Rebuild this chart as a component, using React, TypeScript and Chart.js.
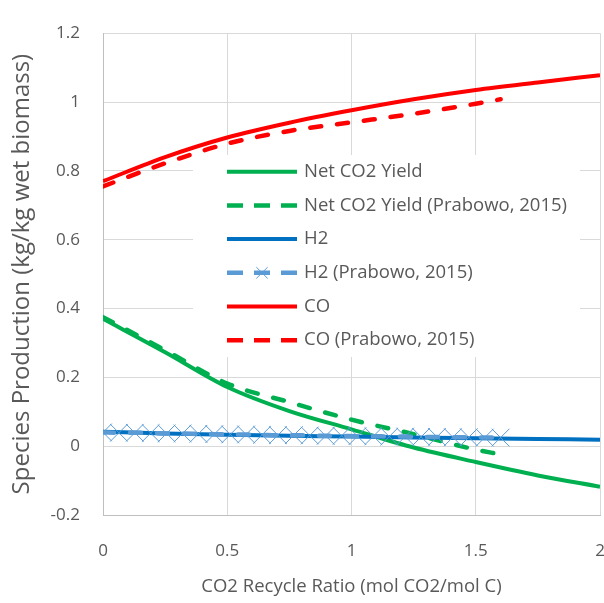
import React, { useEffect, useRef } from 'react';
import { Chart, registerables } from 'chart.js';

Chart.register(...registerables);

// ---- Data ----
const simRatio = [0, 0.25, 0.5, 0.75, 1, 1.25, 1.5, 1.75, 2];
const netCO2Yield = [0.370, 0.273, 0.172, 0.102, 0.049, -0.004, -0.046, -0.085, -0.118];
const h2Yield = [0.042, 0.037, 0.033, 0.030, 0.028, 0.025, 0.023, 0.021, 0.019];
const coYield = [0.770, 0.840, 0.897, 0.940, 0.976, 1.008, 1.035, 1.057, 1.078];

const prabowoRatio = [0, 0.25, 0.5, 0.75, 1, 1.25, 1.5, 1.6];
const netCO2Prabowo = [0.375, 0.279, 0.182, 0.128, 0.077, 0.035, -0.010, -0.024];
const coPrabowo = [0.755, 0.822, 0.879, 0.916, 0.941, 0.966, 0.995, 1.008];

const h2PrabowoRatio = [
  0, 0.064, 0.128, 0.192, 0.256, 0.32, 0.384, 0.448, 0.512, 0.576, 0.64, 0.704, 0.768,
  0.832, 0.896, 0.96, 1.024, 1.088, 1.152, 1.216, 1.28, 1.344, 1.408, 1.472, 1.536, 1.6,
];
const h2Prabowo = [
  0.040, 0.039, 0.039, 0.038, 0.037, 0.037, 0.036, 0.035, 0.034, 0.034, 0.033, 0.032, 0.032,
  0.031, 0.030, 0.030, 0.029, 0.029, 0.028, 0.028, 0.027, 0.027, 0.026, 0.026, 0.025, 0.025,
];

const seriesLabels = [
  'Net CO2 Yield',
  'Net CO2 Yield (Prabowo, 2015)',
  'H2',
  'H2 (Prabowo, 2015)',
  'CO',
  'CO (Prabowo, 2015)',
];

const xTitle = 'CO2 Recycle Ratio (mol CO2/mol C)';
const yTitle = 'Species Production (kg/kg wet biomass)';

const FONT = '"Open Sans", "DejaVu Sans", sans-serif';
const TEXT = '#595959';
const TICK_SIZE = 17;
const LEGEND_SIZE = 18.5;
const XTITLE_SIZE = 18.5;
const YTITLE_SIZE = 24;

const toPoints = (xs: number[], ys: number[]) => xs.map((x, i) => ({ x, y: ys[i] }));
const fmt = (v: number) => {
  const n = Number(Number(v).toFixed(2));
  return (n === 0 ? 0 : n).toString();
};

const insideLegend = {
  id: 'insideLegend',
  afterDraw(chart: any) {
    const ctx: CanvasRenderingContext2D = chart.ctx;
    const boxL = 193, boxT = 155, boxW = 387, boxH = 202;
    const rowTop = 171.7, rowGap = 33.7;
    const lineX0 = 227, lineX1 = 297, textX = 304;
    ctx.save();
    ctx.fillStyle = '#FFFFFF';
    ctx.fillRect(boxL, boxT, boxW, boxH);
    chart.data.datasets.forEach((ds: any, i: number) => {
      const y = rowTop + i * rowGap;
      ctx.beginPath();
      ctx.strokeStyle = ds.borderColor;
      ctx.lineWidth = ds.borderWidth;
      ctx.lineCap = 'butt';
      ctx.setLineDash(ds.borderDash && ds.borderDash.length ? [16, 11] : []);
      ctx.moveTo(lineX0, y);
      ctx.lineTo(lineX1, y);
      ctx.stroke();
      ctx.setLineDash([]);
      if (ds.pointRadius && ds.pointRadius > 0) {
        const cx = (lineX0 + lineX1) / 2;
        const r = 8 * Math.SQRT1_2;
        ctx.beginPath();
        ctx.strokeStyle = ds.pointBorderColor;
        ctx.lineWidth = ds.pointBorderWidth;
        ctx.moveTo(cx - r, y - r);
        ctx.lineTo(cx + r, y + r);
        ctx.moveTo(cx + r, y - r);
        ctx.lineTo(cx - r, y + r);
        ctx.stroke();
      }
      ctx.fillStyle = TEXT;
      ctx.font = `${LEGEND_SIZE}px ${FONT}`;
      ctx.textBaseline = 'middle';
      ctx.textAlign = 'left';
      ctx.fillText(ds.label, textX, y);
    });
    ctx.restore();
  },
};

export default function App() {
  const ref = useRef<HTMLCanvasElement | null>(null);

  useEffect(() => {
    if (!ref.current) return;
    const base = {
      pointRadius: 0,
      pointHoverRadius: 0,
      cubicInterpolationMode: 'monotone' as const,
      fill: false,
    };
    const dashed = [11, 16];
    const chart = new Chart(ref.current, {
      type: 'line',
      data: {
        datasets: [
          {
            ...base,
            label: seriesLabels[0],
            data: toPoints(simRatio, netCO2Yield),
            borderColor: '#00B050',
            borderWidth: 4,
            order: 5,
          },
          {
            ...base,
            label: seriesLabels[1],
            data: toPoints(prabowoRatio, netCO2Prabowo),
            borderColor: '#00B050',
            borderWidth: 4.5,
            borderDash: dashed,
            borderCapStyle: 'round',
            order: 4,
          },
          {
            ...base,
            label: seriesLabels[2],
            data: toPoints(simRatio, h2Yield),
            borderColor: '#0070C0',
            borderWidth: 4,
            order: 3,
          },
          {
            ...base,
            label: seriesLabels[3],
            data: toPoints(h2PrabowoRatio, h2Prabowo),
            borderColor: '#5B9BD5',
            borderWidth: 4.5,
            borderDash: dashed,
            borderCapStyle: 'round',
            pointStyle: 'crossRot',
            pointRadius: 12.5,
            pointBorderColor: '#5B9BD5',
            pointBackgroundColor: '#5B9BD5',
            pointBorderWidth: 1,
            order: 2,
          },
          {
            ...base,
            label: seriesLabels[4],
            data: toPoints(simRatio, coYield),
            borderColor: '#FF0000',
            borderWidth: 4,
            order: 1,
          },
          {
            ...base,
            label: seriesLabels[5],
            data: toPoints(prabowoRatio, coPrabowo),
            borderColor: '#FF0000',
            borderWidth: 4.5,
            borderDash: dashed,
            borderCapStyle: 'round',
            order: 0,
          },
        ] as any,
      },
      options: {
        animation: false,
        responsive: false,
        maintainAspectRatio: false,
        events: [],
        layout: { autoPadding: false, padding: { top: 13, right: 0, left: 0, bottom: 0 } },
        plugins: {
          legend: { display: false },
          tooltip: { enabled: false },
          title: { display: false },
        },
        scales: {
          x: {
            type: 'linear',
            min: 0,
            max: 2,
            ticks: {
              stepSize: 0.5,
              color: TEXT,
              font: { family: FONT, size: TICK_SIZE },
              padding: 26,
              maxRotation: 0,
              callback: (v: number) => fmt(v),
            },
            grid: { color: '#D9D9D9', lineWidth: 1, drawTicks: false },
            border: { color: '#BFBFBF', width: 1 },
            title: {
              display: true,
              text: xTitle,
              color: TEXT,
              font: { family: FONT, size: XTITLE_SIZE },
              padding: { top: 0, bottom: 5 },
            },
            afterFit(scale: any) {
              scale.height = 88;
              scale.paddingLeft = 0;
              scale.paddingRight = 4;
            },
          },
          y: {
            type: 'linear',
            min: -0.2,
            max: 1.2,
            ticks: {
              stepSize: 0.2,
              color: TEXT,
              font: { family: FONT, size: TICK_SIZE },
              padding: 23,
              callback: (v: number) => fmt(v),
            },
            grid: { color: '#D9D9D9', lineWidth: 1, drawTicks: false },
            border: { color: '#BFBFBF', width: 1 },
            title: {
              display: true,
              text: yTitle,
              color: TEXT,
              font: { family: FONT, size: YTITLE_SIZE },
              padding: { top: 7.5, bottom: 0 },
            },
            afterFit(scale: any) {
              scale.width = 103;
            },
          },
        },
      } as any,
      plugins: [insideLegend],
    });
    return () => chart.destroy();
  }, []);

  return (
    <div style={{ position: 'absolute', left: 0, top: 0, width: 604, height: 603, background: '#fff' }}>
      <canvas ref={ref} width={604} height={603} style={{ display: 'block' }} />
    </div>
  );
}
